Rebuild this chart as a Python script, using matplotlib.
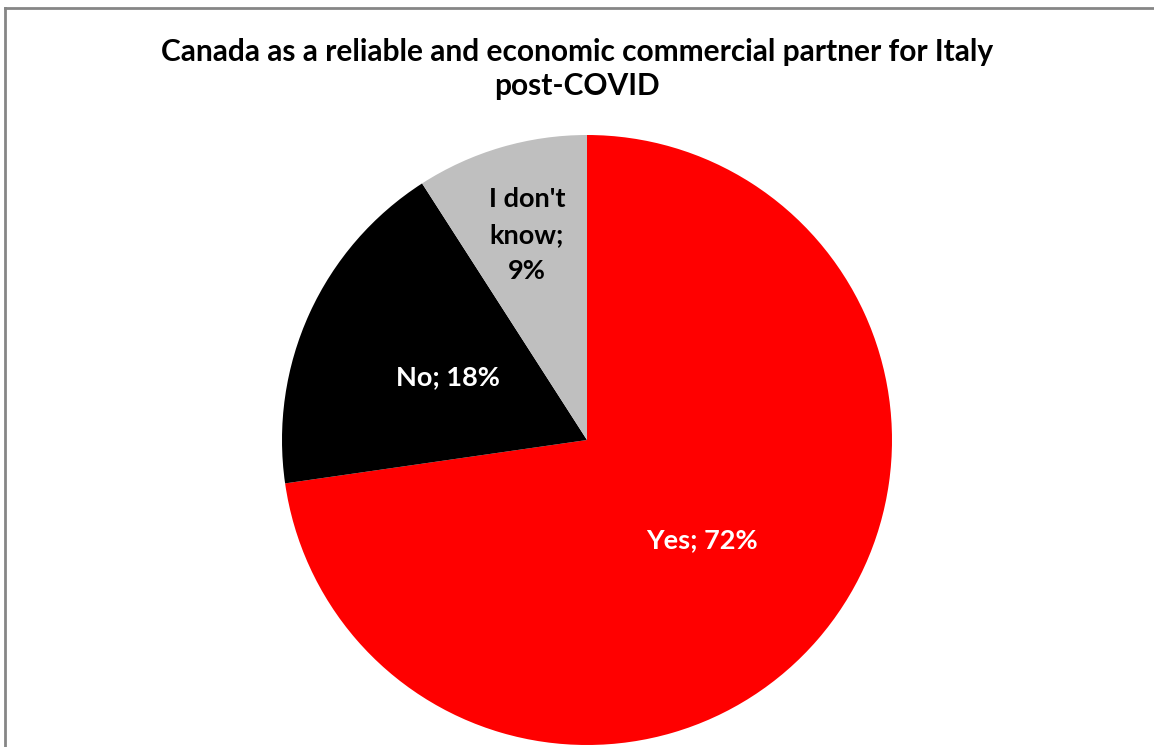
import numpy as np
import matplotlib
matplotlib.use('Agg')
import matplotlib.pyplot as plt
from matplotlib.lines import Line2D

TITLE = 'Canada as a reliable and economic commercial partner for Italy\npost-COVID'
categories = ['Yes', 'No', "I don't know"]
values = [72, 18, 9]
label_names = ['Yes;', 'No;', "I don't\nknow;"]

COLORS = ['#ff0000', '#000000', '#bfbfbf']
TEXT_COLORS = ['white', 'white', 'black']
LABEL_DIST = [0.50, 0.50, 0.70]

W, H = 1154, 747
fig = plt.figure(figsize=(W / 100, H / 100), dpi=100, facecolor='white')

# pie axes: centre (587, 440), radius 305 px
cx, cy, r = 587, 440, 305
ax = fig.add_axes([(cx - r) / W, 1 - (cy + r) / H, 2 * r / W, 2 * r / H])
wedges, _ = ax.pie(values, colors=COLORS, startangle=90, counterclock=False,
                   wedgeprops=dict(linewidth=0))
ax.set_xlim(-1, 1)
ax.set_ylim(-1, 1)
ax.set_aspect('equal')
ax.axis('off')

for w, name, v, tc, d in zip(wedges, label_names, values, TEXT_COLORS, LABEL_DIST):
    ang = np.deg2rad((w.theta1 + w.theta2) / 2)
    if '\n' in name:
        txt = f'{name}\n{v}%'
    else:
        txt = f'{name} {v}%'
    ax.text(d * np.cos(ang), d * np.sin(ang), txt, ha='center', va='center',
            color=tc, fontsize=19.5, fontweight='bold', family='Lato',
            linespacing=1.6)

fig.text(577 / W, 1 - 69 / H, TITLE, ha='center', va='center', fontsize=21.5,
         fontweight='bold', family='Lato', linespacing=1.27)

# chart frame (only top and left visible)
fig.add_artist(Line2D([4.5 / W, 1], [1 - 7.5 / H, 1 - 7.5 / H], color='#868686', lw=2,
                      transform=fig.transFigure))
fig.add_artist(Line2D([4.5 / W, 4.5 / W], [0, 1 - 7.5 / H], color='#868686', lw=2,
                      transform=fig.transFigure))

fig.savefig('out.png', dpi=100, facecolor='white')
